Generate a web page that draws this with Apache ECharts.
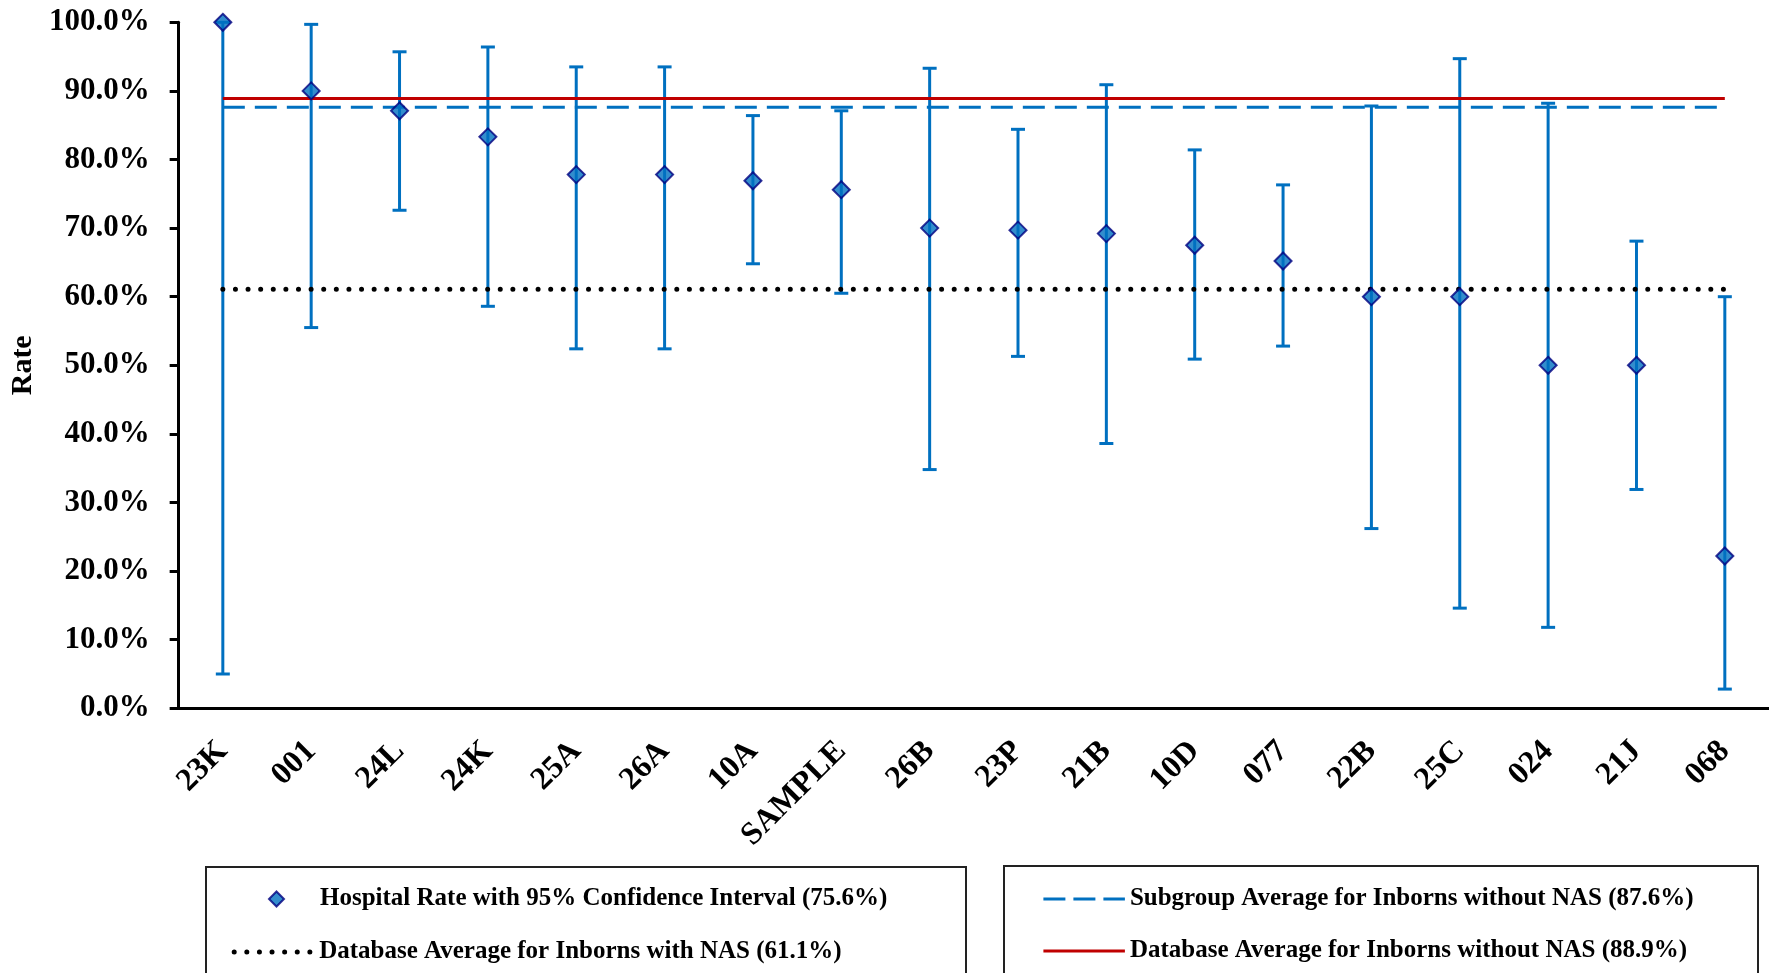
<!DOCTYPE html>
<html>
<head>
<meta charset="utf-8">
<title>Hospital Rate</title>
<script src="https://cdn.jsdelivr.net/npm/echarts@6/dist/echarts.min.js"></script>
<style>
html, body { margin: 0; padding: 0; background: #fff; }
#chart { width: 1769px; height: 973px; }
</style>
</head>
<body>
<div id="chart"></div>
<script>
var categories = ['23K', '001', '24L', '24K', '25A', '26A', '10A', 'SAMPLE', '26B', '23P', '21B', '10D', '077', '22B', '25C', '024', '21J', '068'];
var rates = [100.0, 90.0, 87.1, 83.3, 77.8, 77.8, 76.9, 75.6, 70.0, 69.7, 69.2, 67.5, 65.2, 60.0, 60.0, 50.0, 50.0, 22.2];
var lower = [5.0, 55.5, 72.6, 58.6, 52.4, 52.4, 64.8, 60.5, 34.8, 51.3, 38.6, 50.9, 52.8, 26.2, 14.6, 11.8, 31.9, 2.8];
var upper = [100.0, 99.7, 95.7, 96.4, 93.5, 93.5, 86.4, 87.1, 93.3, 84.4, 90.9, 81.4, 76.3, 87.8, 94.7, 88.2, 68.1, 60.0];
var nasAvg = 61.1;
var subgroupAvg = 87.6;
var dbAvg = 88.9;

var names = [
    'Hospital Rate with 95% Confidence Interval (75.6%)',
    'Database Average for Inborns with NAS (61.1%)',
    'Subgroup Average for Inborns without NAS (87.6%)',
    'Database Average for Inborns without NAS (88.9%)'
];

var font = "'Liberation Serif', 'Times New Roman', serif";
var blue = '#0070C0';

function flat(v) {
    return categories.map(function () { return v; });
}

var errData = categories.map(function (c, i) {
    return [i, lower[i], upper[i]];
});

var legendText = { fontFamily: font, fontWeight: 'bold', fontSize: 25, color: '#000', lineHeight: 30 };
// hide the little symbol echarts puts on line legend icons
var noSymbol = { opacity: 0 };

var option = {
    animation: false,
    backgroundColor: '#fff',
    grid: { left: 174.4, top: 22.3, width: 1602, height: 686 },
    xAxis: {
        type: 'category',
        data: categories,
        boundaryGap: true,
        axisLine: { lineStyle: { color: '#000', width: 3 } },
        axisTick: { show: false },
        axisLabel: {
            rotate: 45,
            margin: 38,
            interval: 0,
            color: '#000',
            fontFamily: font,
            fontWeight: 'bold',
            fontSize: 32
        }
    },
    yAxis: {
        type: 'value',
        min: 0,
        max: 100,
        interval: 10,
        name: 'Rate',
        nameLocation: 'middle',
        nameGap: 137,
        nameTextStyle: { fontFamily: font, fontWeight: 'bold', fontSize: 30, color: '#000' },
        axisLine: { show: true, lineStyle: { color: '#000', width: 3 } },
        axisTick: { show: true, length: 9, lineStyle: { color: '#000', width: 3 } },
        splitLine: { show: false },
        axisLabel: {
            margin: 29,
            color: '#000',
            fontFamily: font,
            fontWeight: 'bold',
            fontSize: 31,
            formatter: function (v) { return v.toFixed(1) + '%'; }
        }
    },
    legend: [
        { data: [names[0]], left: 263, top: 879, icon: 'diamond', itemWidth: 15, itemHeight: 15,
          textStyle: Object.assign({ padding: [0, 0, 0, 31] }, legendText) },
        { data: [names[1]], left: 226.7, top: 932, itemWidth: 80, itemHeight: 14, textStyle: legendText,
          itemStyle: noSymbol, lineStyle: { width: 5, cap: 'round', type: [0.01, 12.6] } },
        { data: [names[2]], left: 1036.9, top: 879, itemWidth: 81.5, itemHeight: 14, textStyle: legendText,
          itemStyle: noSymbol, lineStyle: { width: 3, type: [22, 8] } },
        { data: [names[3]], left: 1036.9, top: 931, itemWidth: 81.5, itemHeight: 14, textStyle: legendText,
          itemStyle: noSymbol, lineStyle: { width: 3 } }
    ],
    graphic: [
        { type: 'rect', shape: { x: 206, y: 867, width: 760, height: 130 }, style: { fill: 'none', stroke: '#222', lineWidth: 2 } },
        { type: 'rect', shape: { x: 1004, y: 866, width: 754, height: 130 }, style: { fill: 'none', stroke: '#222', lineWidth: 2 } }
    ],
    series: [
        {
            name: names[2],
            type: 'line',
            data: flat(subgroupAvg),
            symbol: 'none',
            lineStyle: { color: blue, width: 3, type: [22, 10] },
            itemStyle: { color: blue },
            z: 2
        },
        {
            name: 'errors',
            type: 'custom',
            data: errData,
            encode: { x: 0, y: [1, 2] },
            renderItem: function (params, api) {
                var i = api.value(0);
                var top = api.coord([i, api.value(2)]);
                var bot = api.coord([i, api.value(1)]);
                var hw = 7;
                var st = { stroke: blue, lineWidth: 3 };
                return {
                    type: 'group',
                    children: [
                        { type: 'line', shape: { x1: top[0], y1: top[1], x2: bot[0], y2: bot[1] }, style: st },
                        { type: 'line', shape: { x1: top[0] - hw, y1: top[1], x2: top[0] + hw, y2: top[1] }, style: st },
                        { type: 'line', shape: { x1: bot[0] - hw, y1: bot[1], x2: bot[0] + hw, y2: bot[1] }, style: st }
                    ]
                };
            },
            clip: false,
            z: 3
        },
        {
            name: names[3],
            type: 'line',
            data: flat(dbAvg),
            symbol: 'none',
            lineStyle: { color: '#C00000', width: 3 },
            itemStyle: { color: '#C00000' },
            z: 4
        },
        {
            name: names[1],
            type: 'line',
            data: flat(nasAvg),
            symbol: 'none',
            lineStyle: { color: '#000', width: 5, type: [0.01, 12.6], cap: 'round' },
            itemStyle: { color: '#000' },
            z: 4
        },
        {
            name: names[0],
            type: 'scatter',
            data: rates,
            symbol: 'diamond',
            symbolSize: [17, 17],
            clip: false,
            itemStyle: { color: blue, borderColor: '#000080', borderWidth: 2 },
            z: 5
        }
    ]
};

var chart = echarts.init(document.getElementById('chart'));
chart.setOption(option);
</script>
</body>
</html>
